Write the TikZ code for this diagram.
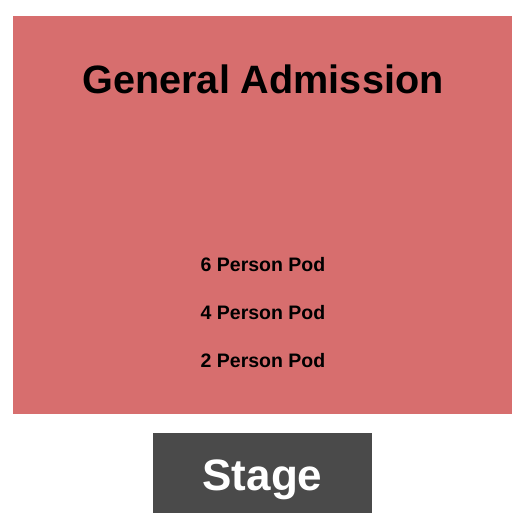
\documentclass[tikz,border=0pt]{standalone}
\usepackage{fontspec}
\setmainfont{Liberation Sans}
\definecolor{garea}{RGB}{215,110,110}
\definecolor{stagec}{RGB}{74,74,74}
\begin{document}
\begin{tikzpicture}[x=1pt,y=-1pt,
  area/.style={fill=garea,draw=none},
  stagebox/.style={fill=stagec,draw=none},
  bigtxt/.style={font=\fontsize{39.6}{40}\selectfont\bfseries,text=black,inner sep=0pt,anchor=base},
  podtxt/.style={font=\fontsize{19.5}{20}\selectfont\bfseries,text=black,inner sep=0pt,anchor=base},
  stagetxt/.style={font=\fontsize{44}{44}\selectfont\bfseries,text=white,inner sep=0pt,anchor=base}]
\useasboundingbox (0,0) rectangle (525,525);
\fill[white] (0,0) rectangle (525,525);
\path[area] (13,16) rectangle (512,414);
\path[stagebox] (153,433) rectangle (372,513);
\node[bigtxt] (ga) at (263,93) {General Admission};
\node[podtxt] (p6) at (263,271) {6 Person Pod};
\node[podtxt] (p4) at (263,319) {4 Person Pod};
\node[podtxt] (p2) at (263,367) {2 Person Pod};
\node[stagetxt] (st) at (262.5,490) {Stage};
\end{tikzpicture}
\end{document}
